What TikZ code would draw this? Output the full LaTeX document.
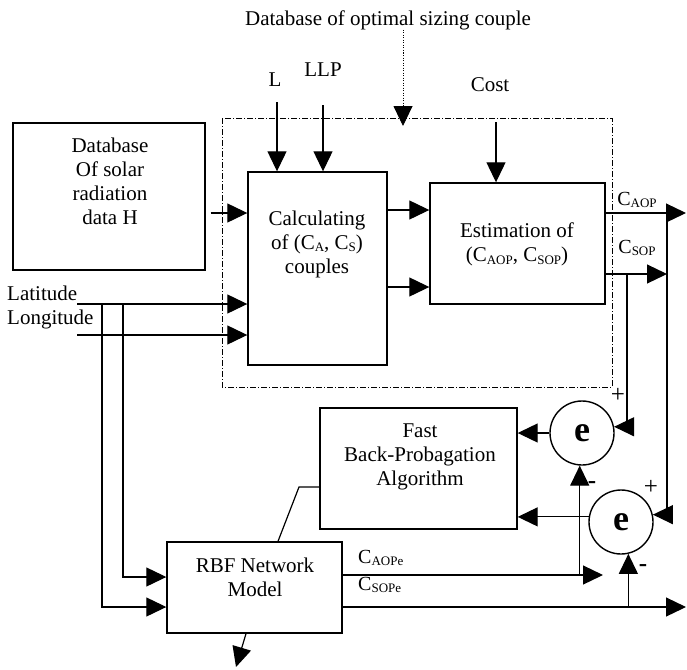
\documentclass[tikz,border=0pt]{standalone}
\usepackage{fontspec}
\setmainfont{Liberation Serif}
\usetikzlibrary{arrows.meta}
\newcommand\mysub[1]{\raisebox{-0.12em}{\fontsize{13}{13}\selectfont #1}}
\begin{document}
\begin{tikzpicture}[x=1pt,y=-1pt,
  box/.style={draw,line width=1.4pt,inner sep=0pt},
  txt/.style={inner sep=0pt,font=\fontsize{21}{24}\selectfont,align=center},
  sgn/.style={inner sep=0pt,font=\fontsize{25}{25}\selectfont},
  lbl/.style={inner sep=0pt,font=\fontsize{20}{22}\selectfont},
  ln/.style={line width=1.2pt},
  arr/.style={line width=1.2pt,-{Triangle[length=20pt,width=19pt]}},
  darr/.style={line width=0.9pt,dash pattern=on 1pt off 1.5pt,-{Triangle[length=20pt,width=19pt]}},
  grp/.style={line width=0.7pt,dash pattern=on 6pt off 2pt on 1pt off 2pt},
  sum/.style={draw,circle,line width=1.4pt,minimum size=64pt,inner sep=0pt,font=\fontsize{36}{36}\selectfont\bfseries}
]
\useasboundingbox (0,0) rectangle (687,669);

% group box
\draw[grp] (222,118) rectangle (612,387);

% blocks
\node[box,minimum width=192pt,minimum height=147pt] (db) at (109,196.5) {};
\node[box,minimum width=139pt,minimum height=193pt] (calc) at (317.5,268.5) {};
\node[box,minimum width=175pt,minimum height=121pt] (est) at (517.5,243.5) {};
\node[box,minimum width=197pt,minimum height=121pt] (fast) at (418.5,468.5) {};
\node[box,minimum width=175pt,minimum height=91pt] (rbf) at (254.5,587.5) {};
\node[sum] (e1) at (582,433) {e};
\node[sum] (e2) at (621,522) {e};

% texts
\node[txt] (title) at (388,20) {Database of optimal sizing couple};
\node[txt] (Ltxt) at (275,80) {L};
\node[txt] (LLPtxt) at (323,70) {LLP};
\node[txt] (costtxt) at (490,85) {Cost};
\node[txt] (dbtxt) at (110,181.5) {Database\\Of solar\\radiation\\data H};
\node[txt] (calctxt) at (317,244) {Calculating\\of (C\mysub{A}, C\mysub{S})\\couples};
\node[txt] (esttxt) at (517,244.5) {Estimation of\\(C\mysub{AOP}, C\mysub{SOP})};
\node[txt] (fasttxt) at (420,457) {Fast\\Back-Probagation\\Algorithm};
\node[txt] (rbftxt) at (255,577.5) {RBF Network\\Model};
\node[txt,anchor=west] (lat) at (7,293) {Latitude};
\node[txt,anchor=west] (lon) at (7,319) {Longitude};
\node[lbl] (caop) at (637,200) {C\mysub{AOP}};
\node[lbl] (csop) at (637,248) {C\mysub{SOP}};
\node[lbl,anchor=west] (caope) at (358,558) {C\mysub{AOPe}};
\node[lbl,anchor=west] (csope) at (358,585) {C\mysub{SOPe}};
\node[sgn] (plus1) at (618,395) {+};
\node[sgn] (plus2) at (651,487) {+};
\node[sgn] (minus1) at (592,485) {\bfseries -};
\node[sgn] (minus2) at (643,568) {\bfseries -};

% free ends
\coordinate (dtop) at (403,30);
\coordinate (dtip) at (403,126);
\coordinate (Lsrc) at (277,102);
\coordinate (LLPsrc) at (323,105);
\coordinate (costsrc) at (496,122);
\coordinate (v1) at (102,304);
\coordinate (v2) at (123,304);
\coordinate (outA) at (686,213);
\coordinate (jA) at (667,213);
\coordinate (jS) at (667,274);
\coordinate (bS) at (627,274);
\coordinate (outAe) at (603,575);
\coordinate (outSe) at (686,607);
\coordinate (rbfdown) at (236,667);
\coordinate (kink) at (299,487);

% connectors
\draw[darr] (dtop) -- (dtip);
\draw[arr] (Lsrc) -- (Lsrc |- calc.north);
\draw[arr] (LLPsrc) -- (LLPsrc |- calc.north);
\draw[arr] (costsrc) -- (costsrc |- est.north);
\draw[arr] ([xshift=5pt]db.east |- 0,213) -- (calc.west |- 0,213);
\draw[arr] (lat.east |- 0,304) -- (calc.west |- 0,304);
\draw[arr] (lat.east |- 0,335) -- (calc.west |- 0,335);
\draw[arr] (v1) |- (rbf.west |- 0,607);
\draw[arr] (v2) |- (rbf.west |- 0,577);
\draw[arr] (calc.east |- 0,210) -- (est.west |- 0,210);
\draw[arr] (calc.east |- 0,287) -- (est.west |- 0,287);
\draw[arr] (est.east |- jA) -- (outA);
\draw[arr] (est.east |- jS) -- (jS);
\draw[arr] (jA) |- (e2.13);
\draw[arr] (bS) |- (e1.11);
\draw[arr] (e1.west) -- (fast.east |- e1.west);
\draw[arr] (e2.171) -- (fast.east |- e2.171);
\draw[arr] (rbf.east |- outAe) -- (outAe);
\draw[arr] (e1.266 |- outAe) -- (e1.266);
\draw[arr] (rbf.east |- outSe) -- (outSe);
\draw[arr] (e2.283 |- outSe) -- (e2.283);
\draw[ln] (rbf.north -| 278,0) -- (kink) -- (fast.west |- kink);
\draw[arr] (rbf.south -| 246,0) -- (rbfdown);
\end{tikzpicture}
\end{document}
